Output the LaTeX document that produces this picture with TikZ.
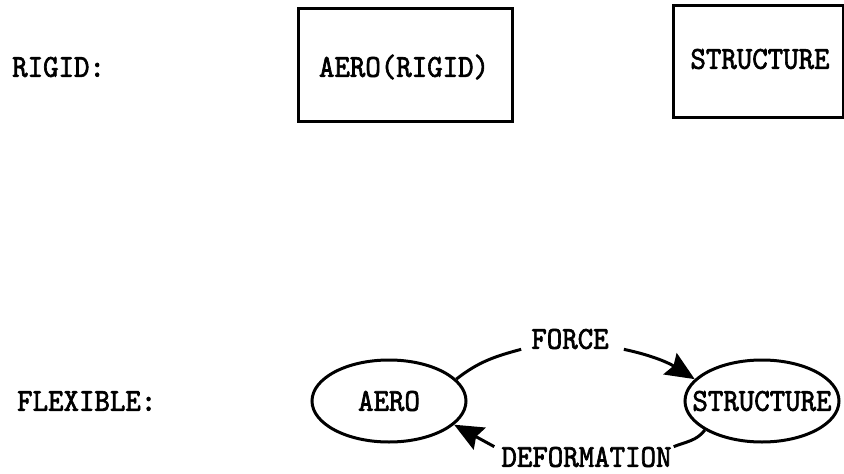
\documentclass[tikz,border=0pt]{standalone}
\usepackage{fontspec}
\newfontfamily\diagfont{lmmono10-regular.otf}[RawFeature={embolden=2;extend=0.92}]
\usetikzlibrary{shapes.geometric,arrows.meta}
\tikzset{
  txt/.style={font=\diagfont\fontsize{32}{34}\selectfont, inner sep=0pt},
  boxnode/.style={txt, draw, rectangle, line width=3pt},
  ellnode/.style={txt, draw, ellipse, line width=3pt, minimum width=154pt, minimum height=82pt},
  conn/.style={line width=3pt},
  headarrow/.style={conn, -{Stealth[length=29pt,width=25pt,inset=4pt]}}
}
\begin{document}
\begin{tikzpicture}[x=1pt,y=1pt]
\useasboundingbox (0,0) rectangle (844,-474);
% rigid row
\node[txt, anchor=west] (rigid) at (12,-67) {RIGID:};
\node[boxnode, minimum width=214pt, minimum height=113pt] (aerobox) at (405,-64.5) {};
\node[txt] (aerotxt) at (404,-67) {AERO(RIGID)};
\node[boxnode, minimum width=170pt, minimum height=112pt] (structbox) at (758,-61) {};
\node[txt] (structtxt) at (760,-59) {STRUCTURE};
% flexible row
\node[txt, anchor=west] (flex) at (17,-401) {FLEXIBLE:};
\node[ellnode] (aero) at (389,-401) {\makebox[0pt]{AERO}};
\node[ellnode] (struct) at (762,-401) {\makebox[0pt]{STRUCTURE}};
\node[txt] (force) at (570,-339) {FORCE};
\node[txt] (deform) at (586.5,-457) {DEFORMATION};
% connectors
\draw[conn] (aero.18) to[out=38,in=195] ([xshift=-10pt]force.south west);
\draw[headarrow] ([xshift=15pt]force.south east) to[out=-12,in=148] (struct.162);
\draw[conn] (struct.207) to[out=232,in=22] ([xshift=2pt]deform.north east);
\draw[headarrow] ([xshift=-7pt]deform.north west) -- (aero.-20);
\end{tikzpicture}
\end{document}
